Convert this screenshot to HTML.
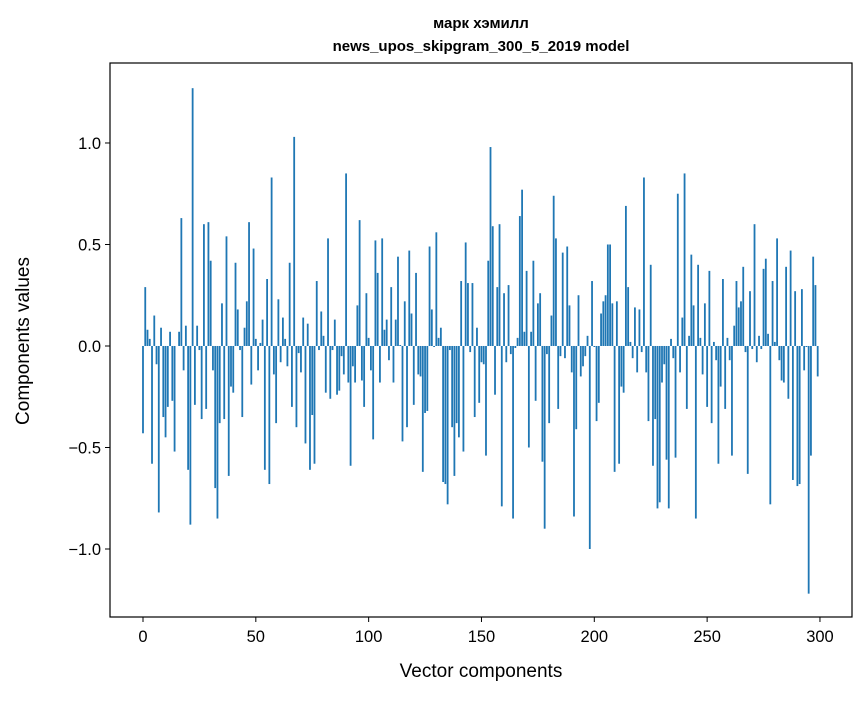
<!DOCTYPE html>
<html><head><meta charset="utf-8"><style>
body{margin:0;background:#fff;}
svg text{font-family:"Liberation Sans","DejaVu Sans",sans-serif;}
</style></head><body>
<svg id="chart" width="867" height="696" xmlns="http://www.w3.org/2000/svg">
<rect width="867" height="696" fill="#fff"/>
<text x="481" y="28" text-anchor="middle" font-size="15" font-weight="bold">марк хэмилл</text>
<text x="481" y="51" text-anchor="middle" font-size="15" font-weight="bold">news_upos_skipgram_300_5_2019 model</text>
<g id="bars"></g>
<g id="axes"></g>
<rect x="110" y="63" width="742" height="554" fill="none" stroke="#000" stroke-width="1.2"/>
<text x="481" y="677" text-anchor="middle" font-size="19">Vector components</text>
<text x="0" y="0" transform="translate(29,341) rotate(-90)" text-anchor="middle" font-size="19">Components values</text>
</svg>
<script>
const values = [
-0.43,0.29,0.08,0.035,-0.58,0.15,-0.09,-0.82,0.09,-0.35,
-0.45,-0.30,0.07,-0.27,-0.52,0.0,0.07,0.63,-0.12,0.10,
-0.61,-0.88,1.27,-0.29,0.10,-0.02,-0.36,0.60,-0.31,0.61,
0.42,-0.12,-0.70,-0.85,-0.38,0.21,-0.36,0.54,-0.64,-0.20,
-0.23,0.41,0.18,-0.02,-0.35,0.09,0.22,0.61,-0.19,0.48,
0.035,-0.12,0.015,0.13,-0.61,0.33,-0.68,0.83,-0.14,-0.38,
0.23,-0.08,0.14,0.035,-0.10,0.41,-0.30,1.03,-0.40,-0.035,
-0.13,0.14,-0.48,0.11,-0.61,-0.34,-0.58,0.32,-0.02,0.17,
0.05,-0.23,0.53,-0.26,-0.02,0.13,-0.24,-0.22,-0.05,-0.14,
0.85,-0.18,-0.59,-0.10,-0.18,0.20,0.62,-0.17,-0.30,0.26,
0.04,-0.12,-0.46,0.52,0.36,-0.18,0.53,0.08,0.13,-0.07,
0.29,-0.18,0.13,0.44,0.005,-0.47,0.22,-0.40,0.47,0.16,
-0.29,0.36,-0.14,-0.15,-0.62,-0.33,-0.32,0.49,0.18,-0.005,
0.56,0.04,0.09,-0.67,-0.68,-0.78,-0.02,-0.40,-0.64,-0.38,
-0.45,0.32,-0.52,0.51,0.31,-0.03,0.31,-0.35,0.09,-0.28,
-0.08,-0.09,-0.54,0.42,0.98,0.59,-0.24,0.29,0.60,-0.79,
0.26,-0.08,0.30,-0.04,-0.85,-0.01,0.04,0.64,0.77,0.07,
0.37,-0.50,0.07,0.42,-0.27,0.21,0.26,-0.57,-0.90,-0.04,
-0.38,0.15,0.74,0.53,-0.31,-0.05,0.46,-0.06,0.49,0.20,
-0.13,-0.84,-0.41,0.25,-0.15,-0.10,-0.05,0.05,-1.00,0.32,
-0.005,-0.37,-0.28,0.16,0.22,0.25,0.50,0.50,0.21,-0.62,
0.22,-0.58,-0.20,-0.23,0.69,0.29,0.02,-0.06,0.19,-0.13,
0.18,-0.03,0.83,-0.13,-0.37,0.40,-0.59,-0.36,-0.80,-0.77,
-0.18,-0.09,-0.56,-0.80,0.035,-0.06,-0.55,0.75,-0.13,0.14,
0.85,-0.31,0.05,0.45,0.20,-0.85,0.40,0.04,-0.14,0.21,
-0.30,0.37,-0.38,0.02,-0.07,-0.58,-0.20,0.33,-0.31,0.04,
-0.07,-0.54,0.10,0.32,0.19,0.22,0.39,-0.03,-0.63,0.27,
-0.015,0.60,-0.08,0.05,-0.015,0.38,0.43,0.06,-0.78,0.32,
0.02,0.53,-0.07,-0.17,-0.18,0.39,-0.26,0.47,-0.66,0.27,
-0.69,-0.68,0.28,-0.12,-0.005,-1.22,-0.54,0.44,0.30,-0.15
];
const xTicks = [0,50,100,150,200,250,300];
const yTicks = [-1.0,-0.5,0.0,0.5,1.0];
const yTickLabels = ["\u22121.0","\u22120.5","0.0","0.5","1.0"];

const NS="http://www.w3.org/2000/svg";
const L=110,R=852,T=63,B=617;
const xMin=-14.62,xMax=314.2,yMin=-1.335,yMax=1.394;
function xs(v){return L+(v-xMin)/(xMax-xMin)*(R-L);}
function ys(v){return B-(v-yMin)/(yMax-yMin)*(B-T);}
const bars=document.getElementById('bars');
values.forEach((v,i)=>{
  const r=document.createElementNS(NS,'rect');
  const x0=xs(i-0.4),x1=xs(i+0.4);
  const y0=ys(Math.max(v,0)),y1=ys(Math.min(v,0));
  r.setAttribute('x',x0);r.setAttribute('width',x1-x0);
  r.setAttribute('y',y0);r.setAttribute('height',Math.max(y1-y0,0.01));
  r.setAttribute('fill','#1f77b4');
  
  
  bars.appendChild(r);
});
const axes=document.getElementById('axes');
xTicks.forEach(t=>{
  const x=xs(t);
  const l=document.createElementNS(NS,'line');
  l.setAttribute('x1',x);l.setAttribute('x2',x);l.setAttribute('y1',B);l.setAttribute('y2',B+5);
  l.setAttribute('stroke','#000');
  
  
  axes.appendChild(l);
  const tx=document.createElementNS(NS,'text');
  tx.setAttribute('x',x);tx.setAttribute('y',B+25);tx.setAttribute('text-anchor','middle');tx.setAttribute('font-size','16.5');
  tx.textContent=String(t);
  
  
  axes.appendChild(tx);
});
yTicks.forEach((t,i)=>{
  const y=ys(t);
  const l=document.createElementNS(NS,'line');
  l.setAttribute('x1',L-5);l.setAttribute('x2',L);l.setAttribute('y1',y);l.setAttribute('y2',y);
  l.setAttribute('stroke','#000');
  
  
  axes.appendChild(l);
  const tx=document.createElementNS(NS,'text');
  tx.setAttribute('x',L-9);tx.setAttribute('y',y+6);tx.setAttribute('text-anchor','end');tx.setAttribute('font-size','16.5');
  tx.textContent=yTickLabels[i];
  
  
  axes.appendChild(tx);
});
</script>
</body></html>
